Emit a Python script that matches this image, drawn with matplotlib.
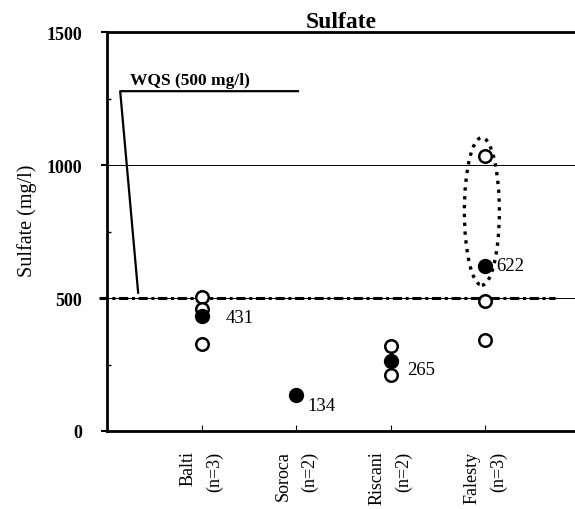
import matplotlib.pyplot as plt
from matplotlib.patches import Ellipse
import numpy as np

plt.rcParams['font.family'] = ['Liberation Serif', 'DejaVu Serif']

sites = ["Balti", "Soroca", "Riscani", "Falesty"]
counts = [3, 2, 2, 3]
# single samples (open circles) and site means (filled)
samples = [[505, 460, 328], [], [318, 212], [1035, 490, 341]]
means = [431, 134, 265, 622]
wqs = 500

fig = plt.figure(figsize=(5.75, 5.1), dpi=100)
ax = fig.add_axes([0.186, 0.153, 0.814, 0.782])

xpos = np.arange(1, len(sites) + 1)

# horizontal grid at 500 and 1000
for g in [500, 1000]:
    ax.axhline(g, color="black", lw=0.7, zorder=1)

# WQS line
ax.plot([-0.08, 4.74], [wqs, wqs], color="black", lw=2.2,
        dashes=(3, 1.2, 1, 1.2), zorder=2, clip_on=False)

for x, vals in zip(xpos, samples):
    ax.plot([x] * len(vals), vals, "o", ms=9, mfc="white", mec="black",
            mew=1.8, zorder=3)
ax.plot(xpos, means, "o", ms=10, mfc="black", mec="black", zorder=4)

offsets = [(0.25, 425), (0.12, 95), (0.17, 232), (0.12, 622)]
for x, m, (dx, ty) in zip(xpos, means, offsets):
    ax.text(x + dx, ty, str(m), fontsize=13.5, va="center", ha="left")

# highlight Falesty spread
ax.add_patch(Ellipse((3.965, 826), 0.37, 555, fill=False, ls=":", lw=2.4,
                     ec="black", zorder=5))

# WQS callout
ax.plot([2.02, 0.14, 0.33], [1278, 1278, 520], color="black", lw=1.6)
ax.text(0.24, 1320, "WQS (500 mg/l)", fontsize=12.5, fontweight="bold",
        va="center", ha="left")

ax.set_xlim(0, 4.95)
ax.set_ylim(0, 1500)
ax.set_yticks([0, 500, 1000, 1500])
ax.set_yticks([250, 750, 1250], minor=True)
ax.set_xticks(xpos)
ax.set_xticklabels([f"{s}\n(n={n})" for s, n in zip(sites, counts)],
                   rotation=90, fontsize=13, va="top", ha="center",
                   multialignment="right", linespacing=1.7)
for lab in ax.get_yticklabels():
    lab.set_fontweight("bold")
    lab.set_fontsize(13)

ax.tick_params(axis="x", direction="in", length=4, pad=14)
ax.tick_params(axis="y", which="major", direction="out", length=4, width=1.5, pad=14)
ax.tick_params(axis="y", which="minor", direction="in", length=3, width=1)

for side in ["left", "bottom", "top"]:
    ax.spines[side].set_linewidth(2)
ax.spines["right"].set_visible(False)

ax.set_ylabel("Sulfate (mg/l)", fontsize=14.5)
ax.yaxis.set_label_coords(-0.15, 0.53)
ax.set_title("Sulfate", fontsize=17, fontweight="bold", pad=3, x=0.5)

fig.savefig("out.png")
